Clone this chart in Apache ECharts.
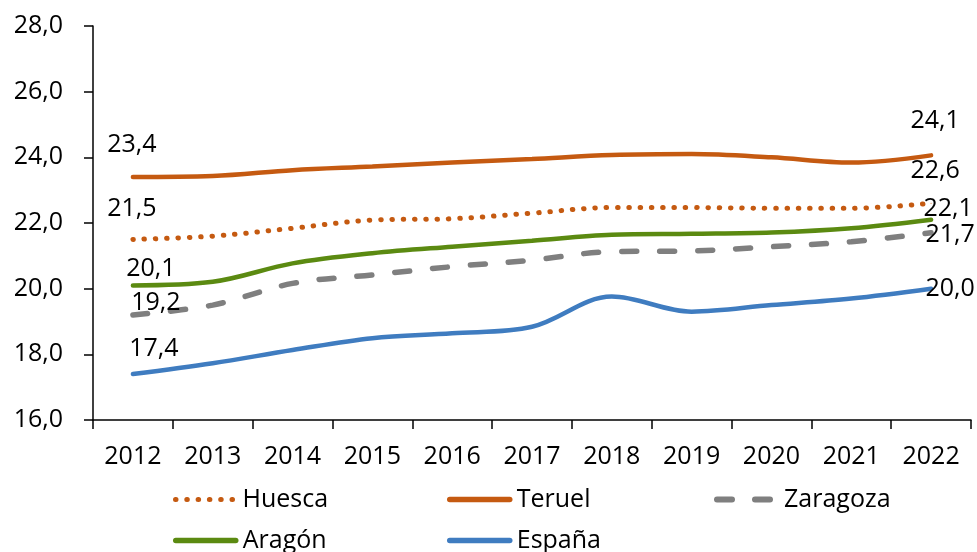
<!DOCTYPE html>
<html>
<head>
<meta charset="utf-8">
<script src="https://cdn.jsdelivr.net/npm/echarts@6/dist/echarts.min.js"></script>
<style>
  html, body { margin: 0; padding: 0; background: #fff; }
  #chart { width: 977px; height: 552px; }
</style>
</head>
<body>
<div id="chart"></div>
<script>
// datos
var years = ['2012', '2013', '2014', '2015', '2016', '2017', '2018', '2019', '2020', '2021', '2022'];
var huesca   = [21.5, 21.6, 21.84, 22.09, 22.13, 22.3, 22.47, 22.47, 22.45, 22.45, 22.6];
var teruel   = [23.4, 23.43, 23.61, 23.72, 23.84, 23.95, 24.07, 24.1, 24.0, 23.84, 24.06];
var zaragoza = [19.2, 19.5, 20.16, 20.42, 20.67, 20.87, 21.13, 21.15, 21.28, 21.43, 21.7];
var aragon   = [20.1, 20.21, 20.77, 21.08, 21.28, 21.46, 21.64, 21.67, 21.71, 21.84, 22.1];
var espana   = [17.4, 17.73, 18.13, 18.49, 18.64, 18.84, 19.76, 19.3, 19.5, 19.7, 20.0];
var yTicks = { min: 16, max: 28, interval: 2 };

var FONT = 'Open Sans';
var FS = 25;
var fmt = function (v) { return Number(v).toFixed(1).replace('.', ','); };

// posición de etiquetas (primer punto / último punto) [dx, dy] respecto al punto
var labelPos = {
	'Huesca':   [[-1, -31], [4, -32]],
	'Teruel':   [[-1, -32], [4, -34]],
	'Zaragoza': [[23, -12], [19, 2]],
	'Aragón':   [[18, -17], [17, -11]],
	'España':   [[21, -25], [19, 0]]
};

function buildData(name, vals) {
	var last = vals.length - 1;
	return vals.map(function (v, i) {
		if (i !== 0 && i !== last) return v;
		var p = labelPos[name][i === 0 ? 0 : 1];
		return {
			value: v,
			symbol: 'circle',
			symbolSize: 1,
			label: {
				show: true,
				position: 'inside',
				offset: p,
				formatter: function (pr) { return fmt(pr.value); },
				color: '#000',
				fontFamily: FONT,
				fontSize: FS
			}
		};
	});
}

function mkSeries(name, vals, color, lineType, width, cap) {
	return {
		name: name,
		type: 'line',
		smooth: 0.35,
		symbol: 'none',
		showSymbol: true,
		data: buildData(name, vals),
		lineStyle: { color: color, width: width, type: lineType, cap: cap || 'round' },
		itemStyle: { color: color },
		z: 2
	};
}

var series = [
	mkSeries('Huesca', huesca, '#C55A11', [0.5, 10.8], 5, 'round'),
	mkSeries('Teruel', teruel, '#C55A11', 'solid', 4.5),
	mkSeries('Zaragoza', zaragoza, '#7F7F7F', [15, 23], 5.5, 'round'),
	mkSeries('Aragón', aragon, '#5B8A11', 'solid', 4.5),
	mkSeries('España', espana, '#3F7CC0', 'solid', 4.5)
];

function mkLegend(name, left, top, lw) {
	return {
		data: [name],
		left: left,
		top: top,
		itemWidth: 60,
		itemHeight: 14,
		itemGap: 0,
		itemStyle: { opacity: 0 },
		lineStyle: { width: lw },
		textStyle: { fontFamily: FONT, fontSize: FS, color: '#000', padding: [0, 0, 0, 2] }
	};
}

var myChart = echarts.init(document.getElementById('chart'));
myChart.setOption({
	animation: false,
	grid: { left: 93, right: 6, top: 26, bottom: 132 },
	xAxis: {
		type: 'category',
		data: years,
		boundaryGap: true,
		axisLine: { lineStyle: { color: '#000', width: 1.5 } },
		axisTick: { show: true, length: 9, lineStyle: { color: '#000', width: 1.5 } },
		axisLabel: { color: '#000', fontFamily: FONT, fontSize: FS, margin: 24 }
	},
	yAxis: {
		type: 'value',
		min: yTicks.min,
		max: yTicks.max,
		interval: yTicks.interval,
		axisLine: { show: true, lineStyle: { color: '#000', width: 1.5 } },
		axisTick: { show: true, length: 9, lineStyle: { color: '#000', width: 1.5 } },
		splitLine: { show: false },
		axisLabel: { color: '#000', fontFamily: FONT, fontSize: FS, margin: 30, formatter: fmt }
	},
	legend: [
		mkLegend('Huesca', 168, 482, 5),
		mkLegend('Teruel', 442, 482, 5.5),
		mkLegend('Zaragoza', 709, 482, 6),
		mkLegend('Aragón', 168, 523, 5.5),
		mkLegend('España', 442, 523, 5.5)
	],
	series: series
});
</script>
</body>
</html>
